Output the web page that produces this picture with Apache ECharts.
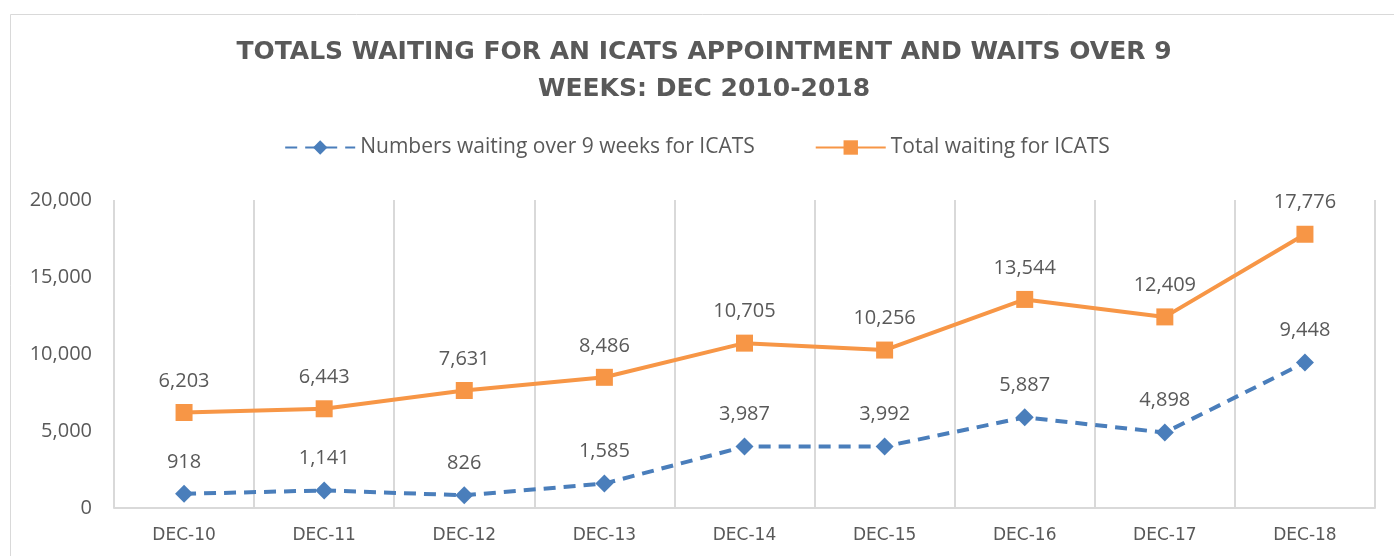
<!DOCTYPE html>
<html>
<head>
<meta charset="utf-8">
<script src="https://cdn.jsdelivr.net/npm/echarts@6/dist/echarts.min.js"></script>
<style>
html,body{margin:0;padding:0;background:#fff;}
#chart{width:1394px;height:556px;}
</style>
</head>
<body>
<div id="chart"></div>
<script>
const categories = ["DEC-10","DEC-11","DEC-12","DEC-13","DEC-14","DEC-15","DEC-16","DEC-17","DEC-18"];
const over9Weeks = [918, 1141, 826, 1585, 3987, 3992, 5887, 4898, 9448];
const totalWaiting = [6203, 6443, 7631, 8486, 10705, 10256, 13544, 12409, 17776];
const seriesNames = ["Numbers waiting over 9 weeks for ICATS", "Total waiting for ICATS"];
const titleLines = ["TOTALS WAITING FOR AN ICATS APPOINTMENT AND WAITS OVER 9", "WEEKS: DEC 2010-2018"];

const chart = echarts.init(document.getElementById('chart'));
const fmt = v => v.toLocaleString('en-US');
const labelStyle = {
  show: true, position: 'top', distance: 13,
  color: '#595959', fontSize: 20, fontFamily: 'Open Sans',
  formatter: p => fmt(p.value)
};
const titleStyle = { fill: '#595959', fontSize: 25, fontWeight: 'bold', fontFamily: 'DejaVu Sans', align: 'center', verticalAlign: 'middle' };
chart.setOption({
  backgroundColor: '#fff',
  animation: false,
  graphic: [{
    type: 'rect', left: 8, top: 12, silent: true,
    shape: { width: 1400, height: 560 },
    style: { fill: 'none', stroke: '#d9d9d9', lineWidth: 1 }
  }, {
    type: 'text', x: 704, y: 52, silent: true,
    style: Object.assign({ text: titleLines[0] }, titleStyle)
  }, {
    type: 'text', x: 704, y: 89, silent: true,
    style: Object.assign({ text: titleLines[1] }, titleStyle)
  }],
  legend: {
    top: 132, left: 'center', itemWidth: 70, itemHeight: 18, itemGap: 60,
    textStyle: { color: '#595959', fontSize: 21, fontFamily: 'Open Sans' },
    data: seriesNames
  },
  grid: { left: 114, right: 19, top: 200, bottom: 48 },
  xAxis: {
    type: 'category', data: categories, boundaryGap: true,
    axisLine: { show: true, lineStyle: { color: '#d9d9d9', width: 2 } },
    axisTick: { show: false },
    splitLine: { show: true, lineStyle: { color: '#d9d9d9', width: 2 } },
    axisLabel: { color: '#595959', fontSize: 17, fontFamily: 'DejaVu Sans', margin: 19 }
  },
  yAxis: {
    type: 'value', min: 0, max: 20000, interval: 5000,
    axisLine: { show: false }, axisTick: { show: false },
    splitLine: { show: false },
    axisLabel: { color: '#595959', fontSize: 20, fontFamily: 'Open Sans', margin: 22, formatter: v => fmt(v) }
  },
  series: [
    {
      name: seriesNames[0], type: 'line', data: over9Weeks,
      symbol: 'diamond', symbolSize: 18,
      lineStyle: { color: '#4a7ebb', width: 4, type: [12, 8] },
      itemStyle: { color: '#4a7ebb' },
      label: labelStyle
    },
    {
      name: seriesNames[1], type: 'line', data: totalWaiting,
      symbol: 'rect', symbolSize: 17,
      lineStyle: { color: '#f79646', width: 4 },
      itemStyle: { color: '#f79646' },
      label: labelStyle
    }
  ]
});
</script>
</body>
</html>
